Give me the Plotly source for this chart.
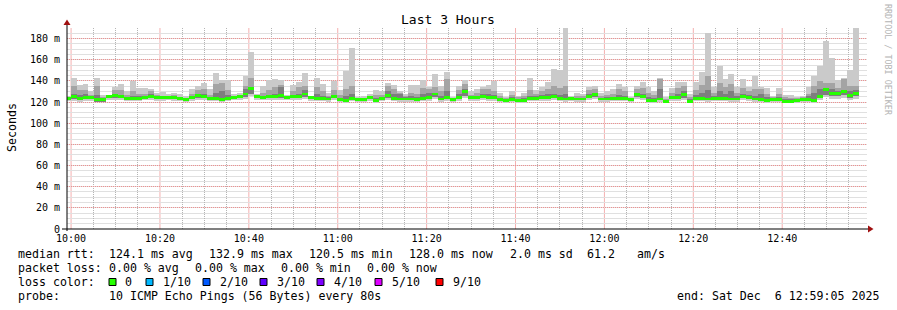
import plotly.graph_objects as go
import pandas as pd

# ---------------- data ----------------
first_bin = "2025-12-06 09:58:35"   # bins of 80 s (probe step)
range_start = "2025-12-06 09:59:05"
range_end = "2025-12-06 12:59:05"

ping_max = [126, 142.4, 136.5, 137, 130.7, 142.4, 126.6, 127, 134, 137.4, 130.7,
            139.6, 133, 133, 132, 129, 129.5, 127.6, 129, 127.6, 126,
            132, 135.5, 138, 132, 147, 141, 141, 127.6, 129, 144.3,
            167.7, 127.6, 135.5, 140.8, 141.8, 141, 126.6, 136, 138.6, 147.5,
            126, 142.4, 137, 129, 140, 131.7, 149.7, 170.8, 125, 125.4,
            127.6, 131.7, 130, 137.7, 136.4, 130.7, 127.6, 136, 136, 141,
            134, 146.5, 135.5, 148.7, 125, 135.5, 141, 130.7, 132, 134.5,
            136, 140, 129, 125, 130.7, 126, 129, 142.4, 131, 134,
            138.6, 151, 150.3, 190, 126, 129, 127.6, 134.5, 135.5, 129,
            130.7, 132, 137, 134.5, 124.5, 135.5, 139, 134, 130.7, 143,
            124.5, 133, 138.6, 139, 127.6, 138.6, 148, 185, 134, 154.4,
            141.8, 146.2, 134, 141.8, 134, 144.3, 134.5, 133, 126, 133,
            126.6, 126.6, 125, 126, 134, 145, 154.4, 178, 162, 141,
            143, 150, 190]

ping_hi2 = [125, 135.5, 131, 131, 127, 135.5, 125, 126, 131, 131, 127,
            130, 128, 128, 130, 127, 126, 126, 127, 125, 124,
            128, 131, 132, 127, 137, 138, 131, 126, 127, 135.5,
            143, 126, 129, 131, 134, 136, 125.5, 130, 134, 135.5,
            125, 134, 130, 126, 131, 127, 132, 135, 124, 124,
            126, 127, 127, 135.5, 132.3, 129, 126, 129, 128, 133,
            132.3, 134, 130, 141.8, 124, 131.7, 137.4, 127, 129, 132.3,
            132.3, 130.7, 126, 124, 127, 124.5, 126, 131, 128, 130,
            132, 135.5, 133, 135.5, 125, 126, 125.5, 131, 132.3, 126,
            127, 128, 132.3, 130, 123.5, 132.3, 133, 129, 127, 141.5,
            123, 129, 133, 135.5, 125, 131, 136, 145, 129, 138,
            134, 137, 129, 133, 130, 132, 132.3, 128, 125, 128,
            124.5, 124, 123.5, 124.5, 128, 135.5, 140, 138, 138, 133,
            141.5, 135.5, 135.5]

ping_hi3 = [124, 128, 127, 128, 125, 127, 124, 125.5, 128, 127, 125,
            126, 126, 126, 128, 125, 125, 125, 125, 124.5, 123,
            126, 128, 128, 125, 129, 130, 127, 125, 126, 132,
            134, 125.5, 126, 127, 128, 134, 125, 127, 128, 131,
            124.5, 128, 126, 124.5, 127, 124, 126, 128, 123, 123,
            125, 124, 125, 130, 128, 127.6, 124.5, 126, 125, 128,
            129, 129, 126, 130, 123, 128, 132.3, 125, 126, 128,
            128, 127, 124, 123, 124.5, 123, 123.5, 126, 126, 127,
            128, 127.6, 127, 128, 124.5, 124, 124, 127.6, 129, 124,
            124.5, 125, 127, 126, 123, 129, 128, 125, 124, 132,
            122, 126, 128, 130, 123, 127, 129, 131, 126, 130,
            128, 130, 126, 128, 127, 126, 128, 125, 124, 125,
            123, 122.5, 122.5, 123.5, 126, 129, 132.3, 133.5, 132, 130,
            131.5, 130, 131]

median_rtt = [123.5, 125, 123, 124, 124.5, 122, 122, 125.4, 126, 125.4, 123.8,
              123.8, 123.8, 124.7, 125.4, 124.1, 124.1, 124.1, 124.1, 123.5, 122.3,
              124.4, 126, 125.4, 123, 123.8, 122.3, 123.5, 124.4, 125.4, 127.6,
              132.9, 125, 124.4, 125.4, 125.4, 126.6, 124.4, 125, 125.4, 127.6,
              124.1, 123.8, 123.5, 122.9, 125, 122.3, 121.3, 123.8, 122.3, 122.3,
              124.4, 121.3, 123.5, 126, 123.5, 122.9, 122.9, 122.9, 122.3, 123.8,
              124.4, 127.6, 122.9, 124.4, 122.3, 124.4, 129.8, 124.4, 124.4, 125,
              124.4, 124.4, 122.3, 121.3, 122.3, 121.3, 121.3, 123.5, 123.5, 124.1,
              124.4, 125.4, 123.5, 122.9, 123.5, 122.9, 122.9, 125.4, 126.9, 122.9,
              122.9, 123.8, 123.5, 123.5, 122.3, 126.9, 125.4, 121.3, 121.3, 122.9,
              120.5, 124.4, 124.4, 126.9, 120.5, 123.5, 123.5, 122.9, 123.5, 123.5,
              123.5, 122.9, 122.9, 125, 124.4, 122.9, 122.3, 121.3, 122.3, 122.3,
              120.5, 120.5, 121.3, 122.3, 122.3, 121.3, 125.4, 132, 128.3, 128.3,
              129.8, 126, 128]

ping_lo = [122, 123, 121.5, 122.5, 123, 120.5, 120.5, 123.5, 124, 123.5, 122,
           122, 122, 123, 123.5, 122.5, 122.5, 122.5, 122.5, 122, 121,
           122.5, 124, 123.5, 121.5, 122, 121, 122, 123, 123.5, 125,
           128, 123.5, 123, 123.5, 123.5, 124, 123, 123.5, 123.5, 125,
           122.5, 122, 122, 121.5, 123.5, 121, 120.5, 122, 121, 121,
           122.5, 120.5, 122, 124, 122, 121.5, 121.5, 121.5, 121, 122,
           122.5, 125, 121.5, 122.5, 121, 122.5, 126, 122.5, 122.5, 123.5,
           122.5, 122.5, 121, 120.5, 121, 120.5, 120.5, 122, 122, 122.5,
           122.5, 123.5, 122, 121.5, 122, 121.5, 121.5, 123.5, 124.5, 121.5,
           121.5, 122, 122, 122, 121, 124.5, 123.5, 120.5, 120.5, 121.5,
           120, 122.5, 122.5, 124, 120, 122, 122, 121.5, 122, 122,
           122, 121.5, 121.5, 123.5, 122.5, 121.5, 121, 120.5, 121, 121,
           120, 120, 120.5, 121, 121, 120.5, 123.5, 127, 125.5, 125.5,
           126.5, 123.5, 125.5]

ping_min = [121, 121, 120.5, 121, 121, 120, 120, 122, 122, 122, 121,
            121, 121, 122, 122, 121, 121, 122, 121, 121, 120,
            121, 122, 122, 121, 121, 120, 121, 122, 122, 123,
            126, 122, 122, 122, 122, 122, 122, 122, 122, 123,
            121, 121, 121, 120.5, 122, 120.5, 119.5, 121, 120, 120.5,
            121, 119.5, 121, 122, 121, 120.5, 120.5, 120.5, 120, 121,
            121, 123, 120.5, 121, 120, 121, 124, 121, 121, 122,
            121, 121, 120, 119.5, 120, 119.5, 119.5, 121, 121, 121,
            121, 122, 121, 120.5, 121, 120.5, 120.5, 122, 123, 120.5,
            120.5, 121, 121, 121, 120, 123, 122, 119.5, 119.5, 120.5,
            119, 121, 121, 122, 119, 121, 121, 120.5, 121, 121,
            121, 120.5, 120.5, 122, 121, 120.5, 120, 119.5, 120, 120,
            119, 119, 119.5, 120, 120, 119.5, 122, 125, 123, 123,
            124, 122, 123]

x_tick_labels = ["10:00", "10:20", "10:40", "11:00", "11:20", "11:40", "12:00", "12:20", "12:40"]
y_tick_values = [0, 20, 40, 60, 80, 100, 120, 140, 160, 180]
y_tick_labels = ["0", "20 m", "40 m", "60 m", "80 m", "100 m", "120 m", "140 m", "160 m", "180 m"]

loss_labels = ["0", "1/10", "2/10", "3/10", "4/10", "5/10", "9/10"]
loss_colors = ["#26ff00", "#00b8ff", "#0059ff", "#5e00ff", "#7e00ff", "#dd00ff", "#ff0000"]

stats_rtt = ["124.1 ms avg", "132.9 ms max", "120.5 ms min", "128.0 ms now", "2.0 ms sd", "61.2", "am/s"]
stats_loss = ["0.00 % avg", "0.00 % max", "0.00 % min", "0.00 % now"]
probe_text = "10 ICMP Echo Pings (56 Bytes) every 80s"
end_text = "end: Sat Dec\u00a0\u00a06 12:59:05 2025"

# ---------------- figure ----------------
W, H = 897, 310
L, R, T, B = 67, 30, 28, 81
PW, PH = W - L - R, H - T - B

def px(x):
    return (x - L) / PW

def py(y):
    return (H - B - y) / PH

times = pd.date_range(start=first_bin, periods=len(median_rtt), freq="80s")
bw = 80 * 1000

# grid positions (minor every 5 min, major every 20 min)
grid5 = pd.date_range("2025-12-06 09:55:00", "2025-12-06 13:00:00", freq="5min")
major_ticks = [t for t in grid5 if t.strftime("%H:%M") in x_tick_labels]
minor_ticks = [t for t in grid5 if t.minute % 20 != 0]

fig = go.Figure()

def band(lo, hi, color):
    fig.add_trace(go.Bar(
        x=times, base=lo, y=[h - l for l, h in zip(lo, hi)],
        width=bw, offset=0, marker=dict(color=color, line=dict(width=0)),
        hoverinfo="skip", showlegend=False))

band(ping_min, ping_max, "#cacaca")
band(ping_lo, ping_hi2, "#a4a4a4")
band(ping_lo, ping_hi3, "#7e7e7e")
fig.add_trace(go.Bar(
    x=times, base=[m - 1.4 for m in median_rtt], y=[2.8] * len(median_rtt),
    width=bw, offset=0, marker=dict(color=loss_colors[0], line=dict(width=0)),
    hoverinfo="skip", showlegend=False))
# empty trace so the label axis is drawn
fig.add_trace(go.Scatter(x=[range_start], y=[None], xaxis="x2", mode="lines",
                         hoverinfo="skip", showlegend=False))

mono = "DejaVu Sans Mono"
major_grid = "#f09090"
vmajor_grid = "#f4b0b0"
minor_grid = "#e0e0e0"
vminor_grid = "#b4b4b4"

fig.update_layout(
    width=W, height=H, margin=dict(l=L, r=R, t=T, b=B),
    paper_bgcolor="white", plot_bgcolor="white",
    barmode="overlay", bargap=0, showlegend=False,
    font=dict(family=mono, size=10, color="black"),
    xaxis=dict(type="date", range=[range_start, range_end],
               tickmode="array", tickvals=minor_ticks, showticklabels=False,
               showgrid=True, gridcolor=vminor_grid, griddash="1px,1px", gridwidth=1,
               ticks="", showline=False, zeroline=False, fixedrange=True),
    xaxis2=dict(type="date", range=[range_start, range_end], overlaying="x", side="bottom",
                tickmode="array", tickvals=major_ticks, ticktext=x_tick_labels,
                showgrid=False,
                ticks="", showline=False, zeroline=False, fixedrange=True,
                ticklabelstandoff=2,
                tickfont=dict(family=mono, size=10)),
    yaxis=dict(range=[0, 190], tickmode="array", tickvals=y_tick_values, ticktext=y_tick_labels,
               showgrid=True, gridcolor=major_grid, griddash="1px,1px", gridwidth=1,
               minor=dict(tickmode="linear", dtick=5, tick0=0, showgrid=True,
                          gridcolor=minor_grid, griddash="solid", gridwidth=1),
               ticks="", showline=False, zeroline=False, fixedrange=True,
               ticklabelstandoff=6,
               tickfont=dict(family=mono, size=10)),
)

shapes = []
# major vertical grid lines (every 20 minutes)
for t in major_ticks:
    shapes.append(dict(type="line", xref="x", yref="paper", x0=t, x1=t, y0=0, y1=1,
                       layer="between", line=dict(color=vmajor_grid, width=1)))
# axis lines
shapes.append(dict(type="line", xref="paper", yref="paper", x0=px(62), x1=px(869), y0=0, y1=0,
                   line=dict(color="black", width=1)))
shapes.append(dict(type="line", xref="paper", yref="paper", x0=0, x1=0, y0=py(231), y1=py(24),
                   line=dict(color="black", width=1)))
# arrows
shapes.append(dict(type="path", xref="paper", yref="paper",
                   path=f"M {px(868)},{py(225.5)} L {px(873.5)},{py(229)} L {px(868)},{py(232.5)} Z",
                   fillcolor="#a01010", line=dict(color="#a01010", width=0)))
shapes.append(dict(type="path", xref="paper", yref="paper",
                   path=f"M {px(63.5)},{py(25)} L {px(67)},{py(19.5)} L {px(70.5)},{py(25)} Z",
                   fillcolor="#a01010", line=dict(color="#a01010", width=0)))
# loss colour squares
sq_x = [109, 146, 203, 260, 317, 375, 436]
lbl_x = [123, 160.5, 218, 275, 332, 389.5, 451]
for sx, c in zip(sq_x, loss_colors):
    shapes.append(dict(type="rect", xref="paper", yref="paper",
                       x0=px(sx), x1=px(sx + 7), y0=py(285.5), y1=py(278.5),
                       fillcolor=c, line=dict(color="black", width=1)))
fig.update_layout(shapes=shapes)

ann = []

def text(x, y, s, size=11.6, anchor="left", color="black", angle=0, yanchor="middle"):
    ann.append(dict(x=px(x), y=py(y), xref="paper", yref="paper", text=s, showarrow=False,
                    xanchor=anchor, yanchor=yanchor, textangle=angle,
                    font=dict(family=mono, size=size, color=color)))

text(448, 19, "Last 3 Hours", size=13, anchor="center")
text(12, 127, "Seconds", size=11.6, anchor="center", angle=-90)
text(888, 60, "RRDTOOL / TOBI OETIKER", size=8.4, anchor="center", color="#b4b4b4", angle=90)

text(16, 254, "median rtt:")
for x, s in zip([107, 207, 307, 407, 508, 585, 635], stats_rtt):
    text(x, 254, s)
text(16, 268, "packet loss:")
for x, s in zip([107, 193, 279, 365], stats_loss):
    text(x, 268, s)
text(16, 282, "loss color:")
for x, s in zip(lbl_x, loss_labels):
    text(x, 282, s)
text(16, 296, "probe:")
text(107, 296, probe_text)
text(881, 296, end_text, anchor="right")

fig.update_layout(annotations=ann)
fig.write_html("out.html")
